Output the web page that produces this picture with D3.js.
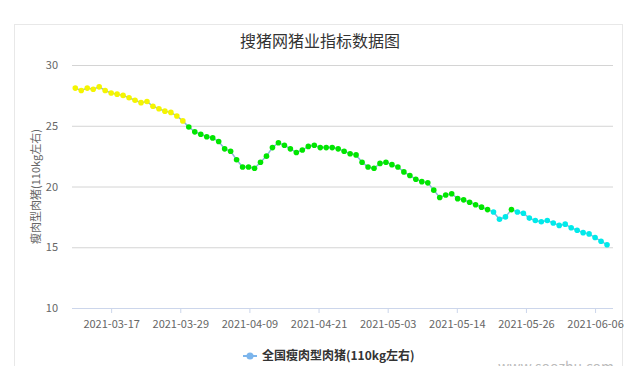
<!DOCTYPE html>
<html>
<head>
<meta charset="utf-8">
<script src="https://cdn.jsdelivr.net/npm/d3@7"></script>
<style>
  body { margin: 0; background: #fff; }
  text { font-family: "Noto Sans CJK SC", "Noto Sans", sans-serif; }
</style>
</head>
<body>
<script>
// daily dates shown on the chart
var dates = [
  "2021-03-11","2021-03-12","2021-03-13","2021-03-14","2021-03-15","2021-03-16","2021-03-17","2021-03-18","2021-03-19","2021-03-20",
  "2021-03-21","2021-03-22","2021-03-23","2021-03-24","2021-03-25","2021-03-26","2021-03-27","2021-03-28","2021-03-29","2021-03-30",
  "2021-03-31","2021-04-01","2021-04-02","2021-04-03","2021-04-04","2021-04-05","2021-04-06","2021-04-07","2021-04-08","2021-04-09",
  "2021-04-10","2021-04-11","2021-04-12","2021-04-13","2021-04-14","2021-04-15","2021-04-16","2021-04-17","2021-04-18","2021-04-19",
  "2021-04-20","2021-04-21","2021-04-22","2021-04-23","2021-04-24","2021-04-25","2021-04-26","2021-04-27","2021-04-28","2021-04-29",
  "2021-04-30","2021-05-01","2021-05-02","2021-05-03","2021-05-04","2021-05-05","2021-05-06","2021-05-07","2021-05-08","2021-05-09",
  "2021-05-10","2021-05-11","2021-05-12","2021-05-13","2021-05-14","2021-05-15","2021-05-16","2021-05-17","2021-05-18","2021-05-19",
  "2021-05-20","2021-05-21","2021-05-22","2021-05-23","2021-05-24","2021-05-25","2021-05-26","2021-05-27","2021-05-28","2021-05-29",
  "2021-05-30","2021-05-31","2021-06-01","2021-06-02","2021-06-03","2021-06-04","2021-06-05","2021-06-06","2021-06-07","2021-06-08"
];

// 全国瘦肉型肉猪(110kg左右) price
var prices = [
  28.1, 27.9, 28.1, 28.0, 28.2, 27.9, 27.7, 27.6, 27.5, 27.3,
  27.1, 26.9, 27.0, 26.6, 26.4, 26.2, 26.1, 25.8, 25.4, 24.9,
  24.5, 24.3, 24.1, 24.0, 23.7, 23.1, 22.9, 22.2, 21.6, 21.6,
  21.5, 22.0, 22.5, 23.2, 23.6, 23.4, 23.1, 22.8, 23.0, 23.3,
  23.4, 23.2, 23.2, 23.2, 23.1, 22.9, 22.7, 22.6, 22.0, 21.6,
  21.5, 21.9, 22.0, 21.8, 21.6, 21.2, 20.9, 20.6, 20.4, 20.3,
  19.7, 19.1, 19.3, 19.4, 19.0, 18.9, 18.7, 18.5, 18.3, 18.1,
  17.9, 17.3, 17.5, 18.1, 17.9, 17.8, 17.4, 17.2, 17.1, 17.2,
  17.0, 16.8, 16.9, 16.6, 16.4, 16.2, 16.1, 15.8, 15.5, 15.2
];

var xTickLabels = ["2021-03-17","2021-03-29","2021-04-09","2021-04-21","2021-05-03","2021-05-14","2021-05-26","2021-06-06"];
var yTicks = [10, 15, 20, 25, 30];

// colour pieces for the markers
var pieceLimits = [18, 25];
var pieceColors = ["#00eaea", "#00e600", "#f5f500"];

var width = 640;
var height = 366;
var svg = d3.select('body').append('svg')
  .attr('width', width)
  .attr('height', height);

var plotLeft = 72, plotRight = 613, plotTop = 65, plotBottom = 308;
var parse = d3.timeParse("%Y-%m-%d");
var day = 864e5;

var data = dates.map(function(d, i) { return { date: parse(d), value: prices[i] }; });

var x = d3.scaleTime()
  .domain([new Date(+data[0].date - 0.55 * day), new Date(+data[data.length - 1].date + day)])
  .range([plotLeft, plotRight]);

var y = d3.scaleLinear()
  .domain([10, 30])
  .range([plotBottom, plotTop]);

var colorScale = d3.scaleThreshold()
  .domain(pieceLimits)
  .range(pieceColors);

// panel frame
svg.append("rect")
  .attr("x", 14.5)
  .attr("y", 24.5)
  .attr("width", 608)
  .attr("height", 360)
  .attr("fill", "#fff")
  .attr("stroke", "#e8e8e8");

// title
svg.append("text")
  .attr("x", 320)
  .attr("y", 47)
  .attr("text-anchor", "middle")
  .attr("font-size", 16)
  .attr("fill", "#333")
  .text("搜猪网猪业指标数据图");

// y grid + labels
var yAxis = svg.append("g")
  .attr("transform", "translate(" + plotLeft + ",0)")
  .call(d3.axisLeft(y).tickValues(yTicks).tickSize(-(plotRight - plotLeft)).tickPadding(14));
yAxis.select(".domain").remove();
yAxis.selectAll(".tick line").attr("stroke", "#d4d4d4");
yAxis.selectAll(".tick text")
  .attr("font-size", 11)
  .attr("fill", "#666")
  .attr("font-family", "'Noto Sans CJK SC', sans-serif");

svg.append("text")
  .attr("transform", "translate(36," + y(20) + ") rotate(-90)")
  .attr("text-anchor", "middle")
  .attr("dy", "0.35em")
  .attr("font-size", 11)
  .attr("fill", "#666")
  .text("瘦肉型肉猪(110kg左右)");

// x axis, labels evenly spread between first and last label date
var t0 = +parse(xTickLabels[0]);
var t1 = +parse(xTickLabels[xTickLabels.length - 1]);
var tickDates = xTickLabels.map(function(d, i) {
  return new Date(t0 + i * (t1 - t0) / (xTickLabels.length - 1));
});

var xAxis = svg.append("g")
  .attr("transform", "translate(0," + plotBottom + ")")
  .call(d3.axisBottom(x)
    .tickValues(tickDates)
    .tickSize(5)
    .tickPadding(7)
    .tickFormat(function(d, i) { return xTickLabels[i]; }));
xAxis.select(".domain").attr("stroke", "#ccd6eb").attr("d", "M" + plotLeft + ",0.5H" + plotRight);
xAxis.selectAll(".tick line").attr("stroke", "#ccd6eb");
xAxis.selectAll(".tick text")
  .attr("font-size", 11)
  .attr("fill", "#666")
  .attr("font-family", "'Noto Sans CJK SC', sans-serif");

// the line
var lineFunction = d3.line()
  .x(function(d) { return x(d.date); })
  .y(function(d) { return y(d.value); });

svg.append("path")
  .attr("d", lineFunction(data))
  .attr("fill", "none")
  .attr("stroke", "#8fb3dc")
  .attr("stroke-width", 1.5);

svg.selectAll("circle.pt")
  .data(data)
  .enter()
  .append("circle")
  .attr("class", "pt")
  .attr("cx", function(d) { return x(d.date); })
  .attr("cy", function(d) { return y(d.value); })
  .attr("r", 2.8)
  .attr("fill", function(d) { return colorScale(d.value); });

// legend
var legend = svg.append("g").attr("transform", "translate(250,356)");
legend.append("line")
  .attr("x1", -7).attr("x2", 7)
  .attr("stroke", "#7cb5ec")
  .attr("stroke-width", 2);
legend.append("circle")
  .attr("r", 3.5)
  .attr("fill", "#7cb5ec");
legend.append("text")
  .attr("x", 12)
  .attr("dy", "0.35em")
  .attr("font-size", 12)
  .attr("font-weight", "bold")
  .attr("fill", "#333")
  .text("全国瘦肉型肉猪(110kg左右)");

// watermark
svg.append("text")
  .attr("x", 614)
  .attr("y", 372)
  .attr("text-anchor", "end")
  .attr("font-size", 14)
  .attr("fill", "#bbb")
  .text("www.soozhu.com");
</script>
</body>
</html>
